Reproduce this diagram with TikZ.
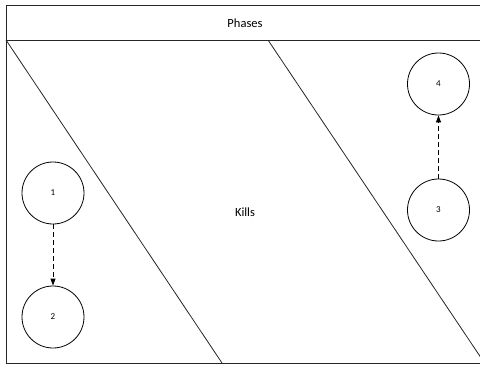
\documentclass[tikz,border=0pt]{standalone}
\usepackage{fontspec}
\setmainfont{Carlito}
\usetikzlibrary{arrows.meta}
\begin{document}
\begin{tikzpicture}[x=1pt,y=-1pt,
  ln/.style={line width=0.8pt,black!85},
  st/.style={circle,draw,line width=0.8pt,minimum size=62pt,inner sep=0pt,font=\fontsize{9}{10}\selectfont},
  lbl/.style={font=\fontsize{12.5}{14}\selectfont},
  flow/.style={line width=0.8pt,dashed,dash pattern=on 5pt off 3pt,-{Triangle[length=7pt,width=5pt]}}]
\useasboundingbox (0,0) rectangle (480,367);
\begin{scope}
\clip (0,0) rectangle (480,367);
\draw[ln] (6,5) rectangle (482,363);
\draw[ln] (6,40) -- (482,40);
\draw[ln] (6,40) -- (222,363);
\draw[ln] (268,40) -- (484.5,363);
\end{scope}
\node[lbl] (ph) at (245,23) {Phases};
\node[lbl] (k) at (245,212) {Kills};
\node[st] (n1) at (53,193) {1};
\node[st] (n2) at (53,317) {2};
\node[st] (n3) at (438.5,210) {3};
\node[st] (n4) at (438.5,84) {4};
\draw[flow] (n1) -- (n2);
\draw[flow] (n3) -- (n4);
\end{tikzpicture}
\end{document}
